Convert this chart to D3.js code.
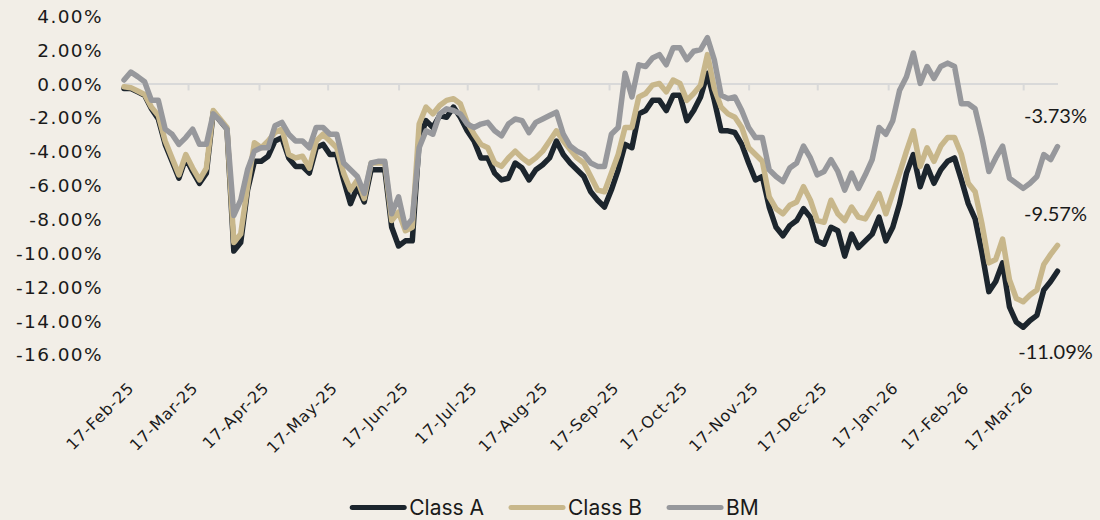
<!DOCTYPE html>
<html>
<head>
<meta charset="utf-8">
<script src="https://cdn.jsdelivr.net/npm/d3@7"></script>
<style>
  html, body { margin: 0; padding: 0; background: #f2eee7; }
  svg { display: block; }
</style>
</head>
<body>
<svg width="1100" height="520"></svg>
<script>
// observation dates (every 3 days)
const dates = [
  "2025-02-17","2025-02-20","2025-02-23","2025-02-26",
  "2025-03-01","2025-03-04","2025-03-07","2025-03-10","2025-03-13","2025-03-16","2025-03-19","2025-03-22","2025-03-25","2025-03-28","2025-03-31",
  "2025-04-03","2025-04-06","2025-04-09","2025-04-12","2025-04-15","2025-04-18","2025-04-21","2025-04-24","2025-04-27","2025-04-30",
  "2025-05-03","2025-05-06","2025-05-09","2025-05-12","2025-05-15","2025-05-18","2025-05-21","2025-05-24","2025-05-27","2025-05-30",
  "2025-06-02","2025-06-05","2025-06-08","2025-06-11","2025-06-14","2025-06-17","2025-06-20","2025-06-23","2025-06-26","2025-06-29",
  "2025-07-02","2025-07-05","2025-07-08","2025-07-11","2025-07-14","2025-07-17","2025-07-20","2025-07-23","2025-07-26","2025-07-29",
  "2025-08-01","2025-08-04","2025-08-07","2025-08-10","2025-08-13","2025-08-16","2025-08-19","2025-08-22","2025-08-25","2025-08-28","2025-08-31",
  "2025-09-03","2025-09-06","2025-09-09","2025-09-12","2025-09-15","2025-09-18","2025-09-21","2025-09-24","2025-09-27","2025-09-30",
  "2025-10-03","2025-10-06","2025-10-09","2025-10-12","2025-10-15","2025-10-18","2025-10-21","2025-10-24","2025-10-27","2025-10-30",
  "2025-11-02","2025-11-05","2025-11-08","2025-11-11","2025-11-14","2025-11-17","2025-11-20","2025-11-23","2025-11-26","2025-11-29",
  "2025-12-02","2025-12-05","2025-12-08","2025-12-11","2025-12-14","2025-12-17","2025-12-20","2025-12-23","2025-12-26","2025-12-29",
  "2026-01-01","2026-01-04","2026-01-07","2026-01-10","2026-01-13","2026-01-16","2026-01-19","2026-01-22","2026-01-25","2026-01-28","2026-01-31",
  "2026-02-03","2026-02-06","2026-02-09","2026-02-12","2026-02-15","2026-02-18","2026-02-21","2026-02-24","2026-02-27",
  "2026-03-02","2026-03-05","2026-03-08","2026-03-11","2026-03-14","2026-03-17","2026-03-20","2026-03-23","2026-03-26","2026-03-29",
  "2026-04-01"
];

const classA = [
  -0.3,-0.3,-0.5,-0.7,
  -1.5,-2.1,-3.6,-4.6,-5.6,-4.4,-5.2,-5.9,-5.3,-1.7,-2.2,
  -2.7,-9.9,-9.4,-6.3,-4.6,-4.6,-4.3,-3.4,-3.2,-4.4,
  -4.9,-4.9,-5.3,-3.8,-3.6,-4.2,-4.2,-5.7,-7.1,-6.1,
  -7.0,-5.1,-5.1,-5.1,-8.5,-9.6,-9.3,-9.3,-3.4,-2.2,
  -2.6,-1.9,-2.0,-1.4,-2.0,-2.8,-3.4,-4.4,-4.4,-5.3,
  -5.7,-5.6,-4.7,-5.0,-5.7,-5.1,-4.8,-4.4,-3.4,-4.2,-4.7,
  -5.1,-5.5,-6.4,-6.9,-7.3,-6.3,-5.1,-3.6,-3.8,-1.8,
  -1.6,-1.0,-1.0,-1.6,-0.7,-0.7,-2.2,-1.6,-0.8,0.6,
  -1.0,-2.8,-2.8,-2.9,-3.6,-4.7,-5.7,-5.5,-7.3,-8.5,
  -9.0,-8.4,-8.1,-7.4,-7.9,-9.3,-9.5,-8.5,-8.7,-10.2,
  -8.9,-9.7,-9.3,-8.9,-7.9,-9.3,-8.5,-7.1,-5.3,-4.2,-6.1,
  -4.9,-5.9,-5.1,-4.6,-4.4,-5.7,-7.1,-8.0,-10.0,
  -12.3,-11.7,-10.6,-13.2,-14.1,-14.4,-14.0,-13.7,-12.2,-11.7,
  -11.09
];

const classB = [
  -0.2,-0.25,-0.45,-0.65,
  -1.4,-1.9,-3.4,-4.4,-5.4,-4.2,-5.0,-5.7,-5.0,-1.6,-2.1,
  -2.6,-9.4,-8.9,-6.1,-3.5,-3.8,-3.4,-2.9,-2.7,-4.2,
  -4.4,-4.3,-5.0,-3.4,-3.0,-3.4,-3.8,-5.3,-6.3,-5.7,
  -6.8,-4.7,-4.7,-4.7,-8.1,-7.6,-8.7,-8.5,-2.4,-1.4,
  -1.8,-1.3,-1.0,-0.9,-1.2,-2.3,-3.0,-3.6,-3.8,-4.7,
  -4.9,-4.4,-4.0,-4.4,-4.7,-4.4,-4.0,-3.4,-2.8,-3.4,-3.9,
  -4.4,-4.7,-5.5,-6.3,-6.4,-5.3,-4.2,-2.6,-2.6,-0.8,
  -0.6,-0.1,0.0,-0.5,0.2,0.0,-1.0,-0.6,-0.1,1.7,
  -0.3,-1.4,-1.8,-2.0,-2.6,-3.8,-4.2,-4.6,-6.7,-7.4,
  -7.7,-7.2,-7.0,-6.1,-6.9,-8.1,-8.2,-6.9,-7.7,-8.1,
  -7.3,-7.9,-8.0,-7.3,-6.5,-7.7,-6.5,-5.3,-4.0,-2.8,-4.9,
  -3.8,-4.6,-3.7,-3.2,-3.2,-4.2,-5.9,-6.4,-8.3,
  -10.6,-10.4,-9.2,-11.6,-12.7,-12.9,-12.5,-12.2,-10.7,-10.1,
  -9.57
];

const bm = [
  0.2,0.67,0.4,0.1,
  -1.0,-1.0,-2.7,-3.0,-3.6,-3.2,-2.7,-3.6,-3.6,-1.8,-2.2,
  -2.7,-7.8,-6.9,-5.1,-4.0,-3.8,-3.8,-2.5,-2.3,-3.0,
  -3.4,-3.4,-3.8,-2.6,-2.6,-3.0,-3.0,-4.7,-5.1,-5.5,
  -6.5,-4.7,-4.6,-4.6,-7.7,-6.7,-8.5,-8.0,-3.8,-2.8,
  -3.0,-1.8,-1.5,-1.6,-1.8,-2.4,-2.6,-2.4,-2.3,-2.8,
  -3.1,-2.4,-2.1,-2.2,-2.9,-2.3,-2.1,-1.9,-1.7,-3.0,-3.7,
  -4.0,-4.2,-4.7,-4.9,-4.9,-3.0,-2.6,0.6,-0.8,1.1,
  1.0,1.5,1.7,1.1,2.1,2.1,1.4,1.9,2.0,2.7,
  1.4,-0.7,-0.9,-0.8,-1.6,-2.6,-3.2,-3.2,-5.1,-5.5,
  -5.8,-5.0,-4.7,-3.7,-4.4,-5.4,-5.2,-4.5,-5.2,-6.3,
  -5.3,-6.2,-5.4,-4.5,-2.6,-3.0,-2.2,-0.4,0.4,1.8,0.0,
  1.0,0.3,1.0,1.2,1.0,-1.2,-1.2,-1.5,-3.2,
  -5.2,-4.4,-3.7,-5.6,-5.9,-6.2,-5.9,-5.5,-4.2,-4.5,
  -3.73
];

const seriesNames = ["Class A", "Class B", "BM"];
const seriesColors = ["#1c252d", "#c8b78b", "#97989c"];
const xTickLabels = [
  "2025-02-17","2025-03-17","2025-04-17","2025-05-17","2025-06-17","2025-07-17","2025-08-17",
  "2025-09-17","2025-10-17","2025-11-17","2025-12-17","2026-01-17","2026-02-17","2026-03-17"
];
const yTicks = [4, 2, 0, -2, -4, -6, -8, -10, -12, -14, -16];

const parse = d3.utcParse("%Y-%m-%d");
const fmtDate = d3.utcFormat("%-d-%b-%y");
const svg = d3.select("svg");

const x = d3.scaleUtc()
  .domain([parse(dates[0]), parse(dates[dates.length - 1])])
  .range([124, 1057.5]);
const y = d3.scaleLinear().domain([-16, 4]).range([354.3, 15.7]);

const series = [classA, classB, bm].map((vals, i) => ({
  name: seriesNames[i],
  color: seriesColors[i],
  values: vals.map((v, j) => ({date: parse(dates[j]), value: v}))
}));

// zero line with month ticks
const xAxis = svg.append("g")
  .attr("transform", "translate(0," + y(0) + ")")
  .call(d3.axisBottom(x).tickValues(xTickLabels.map(parse)).tickSize(7).tickSizeOuter(0).tickFormat(""));
xAxis.select(".domain").attr("stroke", "#d9d9d9").attr("stroke-width", 2);
xAxis.selectAll(".tick line").attr("stroke", "#d9d9d9").attr("stroke-width", 2);

// y labels
const yAxis = svg.append("g")
  .attr("transform", "translate(103,0)")
  .call(d3.axisLeft(y).tickValues(yTicks).tickSize(0).tickPadding(0).tickFormat(d => d.toFixed(2) + "%"));
yAxis.select(".domain").remove();
yAxis.selectAll("text")
  .attr("font-family", "'DejaVu Sans', sans-serif")
  .attr("font-size", 18.5)
  .attr("letter-spacing", "1.4px")
  .attr("fill", "#1a1a1a")
  .attr("dy", "0.36em");

// date labels at the bottom
svg.append("g").selectAll("text")
  .data(xTickLabels)
  .enter().append("text")
  .attr("transform", d => "translate(" + (x(parse(d)) + 11) + ",389) rotate(-45)")
  .attr("text-anchor", "end")
  .attr("font-family", "'DejaVu Sans', sans-serif")
  .attr("font-size", 16)
  .attr("letter-spacing", "0.8px")
  .attr("fill", "#1a1a1a")
  .text(d => fmtDate(parse(d)));

// lines
const line = d3.line().x(d => x(d.date)).y(d => y(d.value));
svg.append("g").selectAll("path")
  .data(series)
  .enter().append("path")
  .attr("d", d => line(d.values))
  .attr("fill", "none")
  .attr("stroke", d => d.color)
  .attr("stroke-width", 5.5)
  .attr("stroke-linejoin", "round")
  .attr("stroke-linecap", "round");

// end value labels
const labelOffsets = [88, -24, -24];
svg.append("g").selectAll("text")
  .data(series)
  .enter().append("text")
  .attr("x", d => x(d.values[d.values.length - 1].date) - 2)
  .attr("y", (d, i) => y(d.values[d.values.length - 1].value) + labelOffsets[i])
  .attr("text-anchor", "middle")
  .attr("font-family", "Lato, sans-serif")
  .attr("font-size", 20)
  .attr("fill", "#1a1a1a")
  .text(d => d.values[d.values.length - 1].value.toFixed(2) + "%");

// legend
const legend = svg.append("g").attr("transform", "translate(0,507.5)");
let cursor = 0;
const items = legend.selectAll("g")
  .data(series)
  .enter().append("g");
items.append("line")
  .attr("x1", 2).attr("x2", 54)
  .attr("stroke", d => d.color)
  .attr("stroke-width", 5)
  .attr("stroke-linecap", "round");
items.append("text")
  .attr("x", 59)
  .attr("y", 7.5)
  .attr("font-family", "Inter, sans-serif")
  .attr("font-size", 21)
  .attr("fill", "#1a1a1a")
  .text(d => d.name);
items.each(function() {
  const w = 59 + d3.select(this).select("text").node().getComputedTextLength();
  d3.select(this).attr("data-x", cursor);
  cursor += w + 25;
});
const total = cursor - 25;
items.attr("transform", function() {
  return "translate(" + (554.5 - total / 2 + (+this.getAttribute("data-x"))) + ",0)";
});
</script>
</body>
</html>
